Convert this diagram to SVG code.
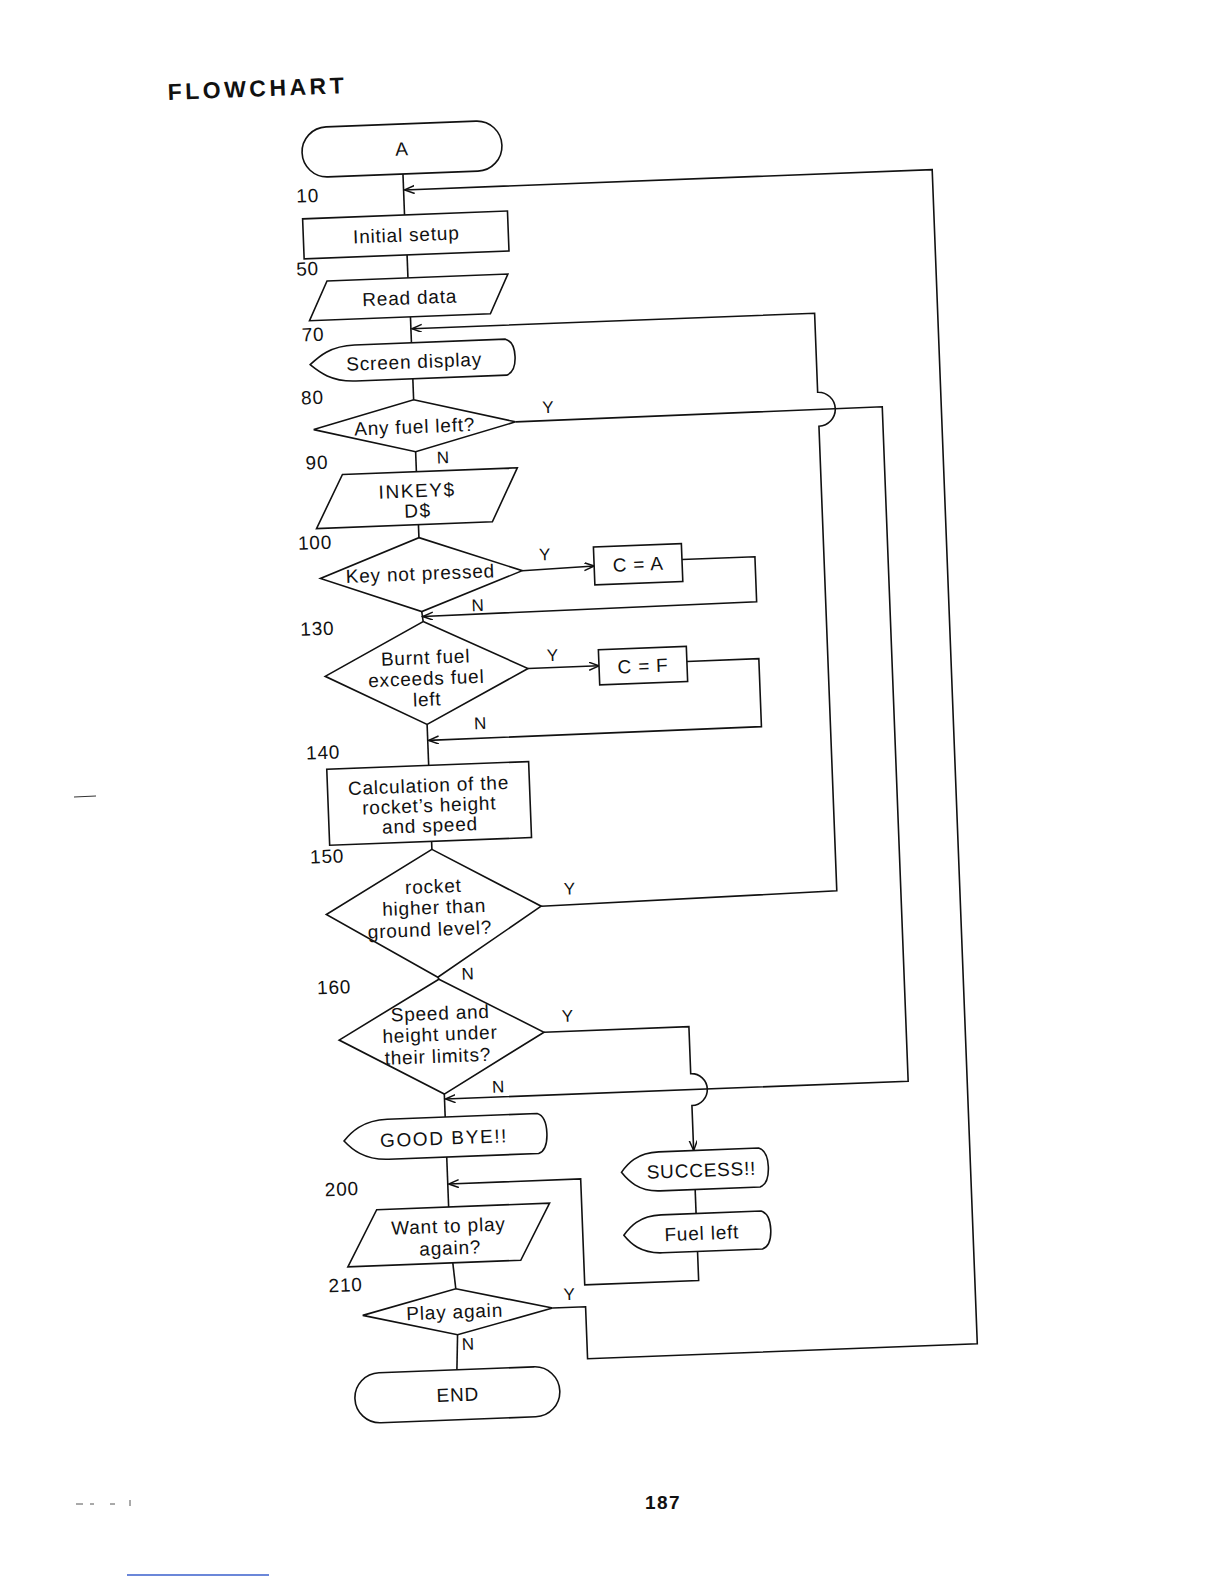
<svg xmlns="http://www.w3.org/2000/svg" width="1224" height="1584" viewBox="0 0 1224 1584">
<style>
.ln{fill:none;stroke:#111;stroke-width:1.6}
.nd{fill:#fff;stroke:#111;stroke-width:1.6}
text{font-family:"Liberation Sans",Arial,sans-serif;fill:#111}
.t{font-size:19px;text-anchor:middle;dominant-baseline:central;letter-spacing:0.8px}
.big{font-size:19px;letter-spacing:1.6px}
.lb{font-size:19px;text-anchor:middle;dominant-baseline:central;letter-spacing:0.8px}
.yn{font-size:17px;text-anchor:middle;dominant-baseline:central}
</style>
<defs>
<marker id="ah" markerWidth="12" markerHeight="10" refX="10" refY="4" orient="auto" markerUnits="userSpaceOnUse">
<path d="M0,0 L10,4 L0,8" fill="none" stroke="#111" stroke-width="1.5"/>
</marker>
</defs>
<rect width="1224" height="1584" fill="#fff"/>
<g transform="rotate(-2.2 402 149)">
<text x="170" y="91" font-size="23" font-weight="bold" letter-spacing="3.5">FLOWCHART</text>
<g id="connectors">
<path class="ln" d="M402,174 V215"/>
<path class="ln" d="M403,255 V278"/>
<path class="ln" d="M404,317 V343"/>
<path class="ln" d="M404,379 V400"/>
<path class="ln" d="M404,452 V472"/>
<path class="ln" d="M404,525 V538"/>
<path class="ln" d="M404,612 L405,622"/>
<path class="ln" d="M405,725 V766"/>
<path class="ln" d="M405,842 V850"/>
<path class="ln" d="M406,978 L407,980"/>
<path class="ln" d="M408,1095 V1118"/>
<path class="ln" d="M408,1158 V1208"/>
<path class="ln" d="M410,1264 L412,1290"/>
<path class="ln" d="M412,1336 L410,1371"/>
<path class="ln" d="M655,1200 V1224"/>
<path class="ln" marker-end="url(#ah)" d="M508,1313 H541 V1365 H931 V190 H403"/>
<path class="ln" marker-end="url(#ah)" d="M512,911 L808,907 V442 A17 17 0 0 0 808,408 V329 H405"/>
<path class="ln" marker-end="url(#ah)" d="M505,426 L872,425 V1100 H409"/>
<path class="ln" marker-end="url(#ah)" d="M506,575 L578,573"/>
<path class="ln" marker-end="url(#ah)" d="M666,570 H739 V615 L405,617"/>
<path class="ln" marker-end="url(#ah)" d="M508,673 L579,673"/>
<path class="ln" marker-end="url(#ah)" d="M667,672 H739 V740 L406,741"/>
<path class="ln" marker-end="url(#ah)" d="M510,1037 H655 V1084 A16 16 0 0 1 655,1116 V1161"/>
<path class="ln" marker-end="url(#ah)" d="M655,1262 V1291 H541 V1185 H409"/>
</g>
<g id="labels">
<text class="lb" x="306" y="192">10</text>
<text class="lb" x="303" y="265">50</text>
<text class="lb" x="306" y="331">70</text>
<text class="lb" x="303" y="394">80</text>
<text class="lb" x="305" y="459">90</text>
<text class="lb" x="300" y="539">100</text>
<text class="lb" x="299" y="625">130</text>
<text class="lb" x="300" y="749">140</text>
<text class="lb" x="300" y="853">150</text>
<text class="lb" x="302" y="984">160</text>
<text class="lb" x="302" y="1186">200</text>
<text class="lb" x="302" y="1282">210</text>
<text class="yn" x="538" y="413">Y</text>
<text class="yn" x="431" y="459">N</text>
<text class="yn" x="529" y="560">Y</text>
<text class="yn" x="460" y="608">N</text>
<text class="yn" x="533" y="661">Y</text>
<text class="yn" x="458" y="726">N</text>
<text class="yn" x="541" y="895">Y</text>
<text class="yn" x="436" y="976">N</text>
<text class="yn" x="534" y="1022">Y</text>
<text class="yn" x="462" y="1090">N</text>
<text class="yn" x="525" y="1300">Y</text>
<text class="yn" x="422" y="1346">N</text>
</g>
<g id="n-a"><rect class="nd" x="302" y="124" width="200" height="50" rx="25"/><text class="t" x="402" y="149">A</text></g>
<g id="n-init"><rect class="nd" x="300" y="215" width="205" height="40"/><text class="t" x="403" y="235">Initial setup</text></g>
<g id="n-read"><polygon class="nd" points="322,278 503,278 484,317 303,317"/><text class="t" x="404" y="298">Read data</text></g>
<g id="n-screen"><path class="nd" d="M347,343 L498,343 Q507,346 507,361 Q507,376 498,379 L347,379 C322,379 310,368 302,361 C310,354 322,343 347,343 Z"/><text class="t" x="406" y="362">Screen display</text></g>
<g id="n-fuel"><polygon class="nd" points="404,400 505,426 404,452 303,426"/><text class="t" x="404" y="427">Any fuel left?</text></g>
<g id="n-inkey"><polygon class="nd" points="330,472 505,472 478,525 302,525"/><text class="t big" x="404" y="491">INKEY$</text><text class="t big" x="404" y="511">D$</text></g>
<g id="n-key"><polygon class="nd" points="404,538 506,575 404,612 304,575"/><text class="t" x="404" y="574">Key not pressed</text></g>
<g id="n-ca"><rect class="nd" x="578" y="554" width="88" height="38"/><text class="t" x="622" y="573">C = A</text></g>
<g id="n-burnt"><polygon class="nd" points="405,622 508,673 405,725 305,673"/><text class="t" x="406" y="658">Burnt fuel</text><text class="t" x="406" y="679">exceeds fuel</text><text class="t" x="406" y="700">left</text></g>
<g id="n-cf"><rect class="nd" x="579" y="657" width="88" height="35"/><text class="t" x="623" y="675">C = F</text></g>
<g id="n-calc"><rect class="nd" x="303" y="766" width="202" height="76"/><text class="t" x="404" y="786">Calculation of the</text><text class="t" x="404" y="806">rocket’s height</text><text class="t" x="404" y="826">and speed</text></g>
<g id="n-rocket"><polygon class="nd" points="405,850 512,911 406,978 297,911"/><text class="t" x="405" y="887">rocket</text><text class="t" x="405" y="908">higher than</text><text class="t" x="400" y="930">ground level?</text></g>
<g id="n-speed"><polygon class="nd" points="407,980 510,1037 408,1095 305,1037"/><text class="t" x="407" y="1014">Speed and</text><text class="t" x="406" y="1035">height under</text><text class="t" x="403" y="1057">their limits?</text></g>
<g id="n-bye"><path class="nd" d="M350,1118 L500,1118 Q509,1121 509,1138 Q509,1155 500,1158 L350,1158 C325,1158 313,1146 306,1138 C313,1130 325,1118 350,1118 Z"/><text class="t big" x="406" y="1139">GOOD BYE!!</text></g>
<g id="n-success"><path class="nd" d="M620,1161 L720,1161 Q729,1164 729,1180 Q729,1197 720,1200 L620,1200 C598,1200 588,1188 582,1180 C588,1172 598,1161 620,1161 Z"/><text class="t" x="662" y="1181" letter-spacing="1.2">SUCCESS!!</text></g>
<g id="n-fuelleft"><path class="nd" d="M620,1224 L720,1224 Q729,1227 729,1243 Q729,1259 720,1262 L620,1262 C598,1262 588,1251 582,1243 C588,1235 598,1224 620,1224 Z"/><text class="t" x="660" y="1244">Fuel left</text></g>
<g id="n-want"><polygon class="nd" points="336,1208 509,1208 478,1264 305,1264"/><text class="t" x="407" y="1227">Want to play</text><text class="t" x="408" y="1249">again?</text></g>
<g id="n-play"><polygon class="nd" points="412,1290 508,1313 412,1336 318,1313"/><text class="t" x="410" y="1313">Play again</text></g>
<g id="n-end"><rect class="nd" x="307" y="1371" width="205" height="50" rx="25"/><text class="t" x="410" y="1396">END</text></g>
</g>
<text x="663" y="1502" font-size="19" font-weight="bold" text-anchor="middle" dominant-baseline="central" letter-spacing="1.5">187</text>
<line x1="74" y1="797" x2="96" y2="796" stroke="#333" stroke-width="1.2"/>
<g stroke="#555" stroke-width="1">
<line x1="76" y1="1504" x2="83" y2="1504"/>
<line x1="90" y1="1504" x2="94" y2="1504"/>
<line x1="110" y1="1504" x2="115" y2="1504"/>
<line x1="130" y1="1500" x2="130" y2="1506"/>
</g>
<line x1="127" y1="1575" x2="269" y2="1575" stroke="#3a5fcd" stroke-width="1.5"/>
</svg>
